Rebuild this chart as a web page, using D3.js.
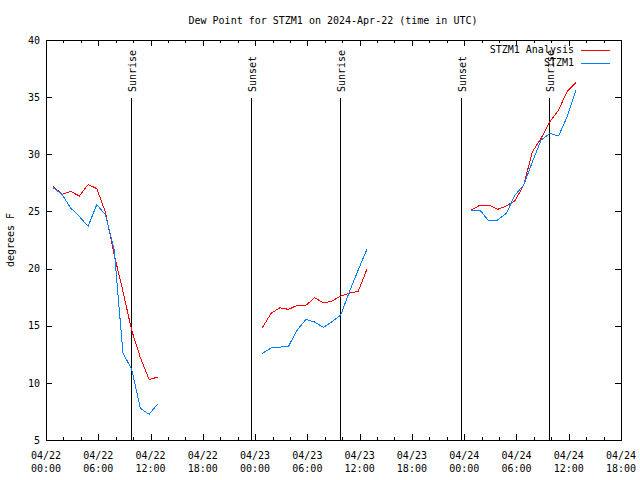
<!DOCTYPE html>
<html><head><meta charset="utf-8">
<script src="https://cdn.jsdelivr.net/npm/d3@7"></script>
<style>
body{margin:0;background:#fff}
svg text{font-family:"DejaVu Sans Mono","Liberation Mono",monospace;font-size:10px;fill:#000}
</style>
</head><body><svg id="c" width="640" height="480"></svg>
<script>
// ---- data ----
const obsTimes = [
 "2024-04-22T00:50Z","2024-04-22T01:50Z","2024-04-22T02:50Z","2024-04-22T03:50Z","2024-04-22T04:50Z","2024-04-22T05:50Z","2024-04-22T06:50Z","2024-04-22T07:50Z","2024-04-22T08:50Z","2024-04-22T09:50Z","2024-04-22T10:50Z","2024-04-22T11:50Z","2024-04-22T12:50Z",
 "2024-04-23T00:50Z","2024-04-23T01:50Z","2024-04-23T02:50Z","2024-04-23T03:50Z","2024-04-23T04:50Z","2024-04-23T05:50Z","2024-04-23T06:50Z","2024-04-23T07:50Z","2024-04-23T08:50Z","2024-04-23T09:50Z","2024-04-23T10:50Z","2024-04-23T11:50Z","2024-04-23T12:50Z",
 "2024-04-24T00:50Z","2024-04-24T01:50Z","2024-04-24T02:50Z","2024-04-24T03:50Z","2024-04-24T04:50Z","2024-04-24T05:50Z","2024-04-24T06:50Z","2024-04-24T07:50Z","2024-04-24T08:50Z","2024-04-24T09:50Z","2024-04-24T10:50Z","2024-04-24T11:50Z","2024-04-24T12:50Z"
];
const analysisValues = [
 27.2, 26.5, 26.75, 26.35, 27.35, 27.0, 24.9, 21.2, 18.0, 14.6, 12.2, 10.3, 10.5,
 14.83, 16.08, 16.57, 16.43, 16.78, 16.78, 17.45, 16.99, 17.16, 17.6, 17.86, 18.0, 19.93,
 25.12, 25.56, 25.56, 25.18, 25.47, 25.94, 27.31, 30.23, 31.4, 32.85, 33.87, 35.53, 36.29
];
const observedValues = [
 27.07, 26.5, 25.3, 24.55, 23.7, 25.6, 24.7, 21.6, 12.6, 11.2, 7.77, 7.25, 8.15,
 12.58, 13.05, 13.13, 13.19, 14.62, 15.55, 15.32, 14.85, 15.35, 15.94, 17.98, 19.87, 21.68,
 25.09, 25.09, 24.16, 24.25, 24.83, 26.43, 27.31, 29.35, 31.25, 31.83, 31.6, 33.3, 35.6
];
const sunLabels = ["Sunrise","Sunset","Sunrise","Sunset","Sunrise"];
const sunTimes = ["2024-04-22T09:47Z","2024-04-22T23:35Z","2024-04-23T09:47Z","2024-04-23T23:35Z","2024-04-24T09:47Z"];
const yTickValues = [5,10,15,20,25,30,35,40];
const xDomain = ["2024-04-22T00:00Z","2024-04-24T18:00Z"];
const seriesNames = ["STZM1 Analysis","STZM1"];
const seriesColors = ["#ff0000","#0080ff"];
const titleText = "Dew Point for STZM1 on 2024-Apr-22 (time in UTC)";
const yLabelText = "degrees F";

// ---- chart ----
const svg = d3.select("#c");
const L = 46, R = 621, T = 40, B = 440;
const x = d3.scaleUtc().domain(xDomain.map(d => new Date(d))).range([L, R]);
const y = d3.scaleLinear().domain([5, 40]).range([B, T]);

const times = obsTimes.map(d => new Date(d));
const fmtD = d3.utcFormat("%m/%d"), fmtH = d3.utcFormat("%H:%M");

// minor ticks (every 2h) bottom & top
const minorTicks = x.ticks(d3.utcHour.every(2));
const majorTicks = x.ticks(d3.utcHour.every(6));
svg.append("g").attr("transform", `translate(0,${B})`)
  .call(d3.axisBottom(x).tickValues(minorTicks).tickSize(-3).tickFormat(""))
  .call(g => g.select(".domain").remove());
svg.append("g").attr("transform", `translate(0,${T})`)
  .call(d3.axisTop(x).tickValues(minorTicks).tickSize(-3).tickFormat(""))
  .call(g => g.select(".domain").remove());
svg.append("g").attr("transform", `translate(0,${B})`)
  .call(d3.axisBottom(x).tickValues(majorTicks).tickSize(-6).tickFormat(""))
  .call(g => g.select(".domain").remove());
svg.append("g").attr("transform", `translate(0,${T})`)
  .call(d3.axisTop(x).tickValues(majorTicks).tickSize(-6).tickFormat(""))
  .call(g => g.select(".domain").remove());

// x labels, two lines
const xl = svg.append("g");
majorTicks.forEach(t => {
  const tx = xl.append("text").attr("text-anchor", "middle").attr("x", x(t));
  tx.append("tspan").attr("x", x(t)).attr("y", 455).attr("dy", "0.35em").text(fmtD(t));
  tx.append("tspan").attr("x", x(t)).attr("y", 468).attr("dy", "0.35em").text(fmtH(t));
});

// y axes
svg.append("g").attr("transform", `translate(${L},0)`)
  .call(d3.axisLeft(y).tickValues(yTickValues).tickSize(-6).tickPadding(6).tickFormat(d3.format("d")))
  .call(g => g.select(".domain").remove())
  .call(g => g.selectAll("text").attr("font-size", null).attr("font-family", null));
svg.append("g").attr("transform", `translate(${R},0)`)
  .call(d3.axisRight(y).tickValues(yTickValues).tickSize(-6).tickFormat(""))
  .call(g => g.select(".domain").remove());
svg.selectAll("g .tick line").attr("shape-rendering", "crispEdges");

// frame
svg.append("rect").attr("x", L + 0.5).attr("y", T + 0.5).attr("width", R - L).attr("height", B - T)
  .attr("fill", "none").attr("stroke", "#000").attr("shape-rendering", "crispEdges");

// sun lines
sunTimes.forEach((s, i) => {
  const sx = x(new Date(s));
  svg.append("line").attr("x1", Math.round(sx) + 0.5).attr("x2", Math.round(sx) + 0.5)
    .attr("y1", 98).attr("y2", B).attr("stroke", "#000").attr("shape-rendering", "crispEdges");
  svg.append("text").attr("transform", `translate(${sx + 1.5},92) rotate(-90)`)
    .attr("text-anchor", "start").attr("dy", "0.35em").text(sunLabels[i]);
});

// data lines (break on gaps)
const line = d3.line().x(d => x(d.t)).y(d => y(d.v));
function segments(vals) {
  const segs = []; let cur = [];
  vals.forEach((v, i) => {
    if (i > 0 && times[i] - times[i - 1] > 2 * 3600e3) { segs.push(cur); cur = []; }
    cur.push({ t: times[i], v });
  });
  segs.push(cur);
  return segs;
}
[analysisValues, observedValues].forEach((vals, k) => {
  segments(vals).forEach(seg => {
    svg.append("path").attr("d", line(seg)).attr("fill", "none")
      .attr("stroke", seriesColors[k]).attr("stroke-width", 1)
      .attr("shape-rendering", "crispEdges");
  });
});

// legend
seriesNames.forEach((n, i) => {
  const ly = 49.5 + i * 13;
  svg.append("text").attr("x", 574).attr("y", ly).attr("dy", "0.35em").attr("text-anchor", "end").text(n);
  svg.append("line").attr("x1", 581).attr("x2", 610).attr("y1", Math.round(ly) + 0.5).attr("y2", Math.round(ly) + 0.5)
    .attr("stroke", seriesColors[i]).attr("shape-rendering", "crispEdges");
});

// title & y label
svg.append("text").attr("x", 333).attr("y", 20).attr("dy", "0.35em").attr("text-anchor", "middle").text(titleText);
svg.append("text").attr("transform", "translate(10,240) rotate(-90)").attr("dy", "0.35em")
  .attr("text-anchor", "middle").text(yLabelText);
</script>
</body></html>
